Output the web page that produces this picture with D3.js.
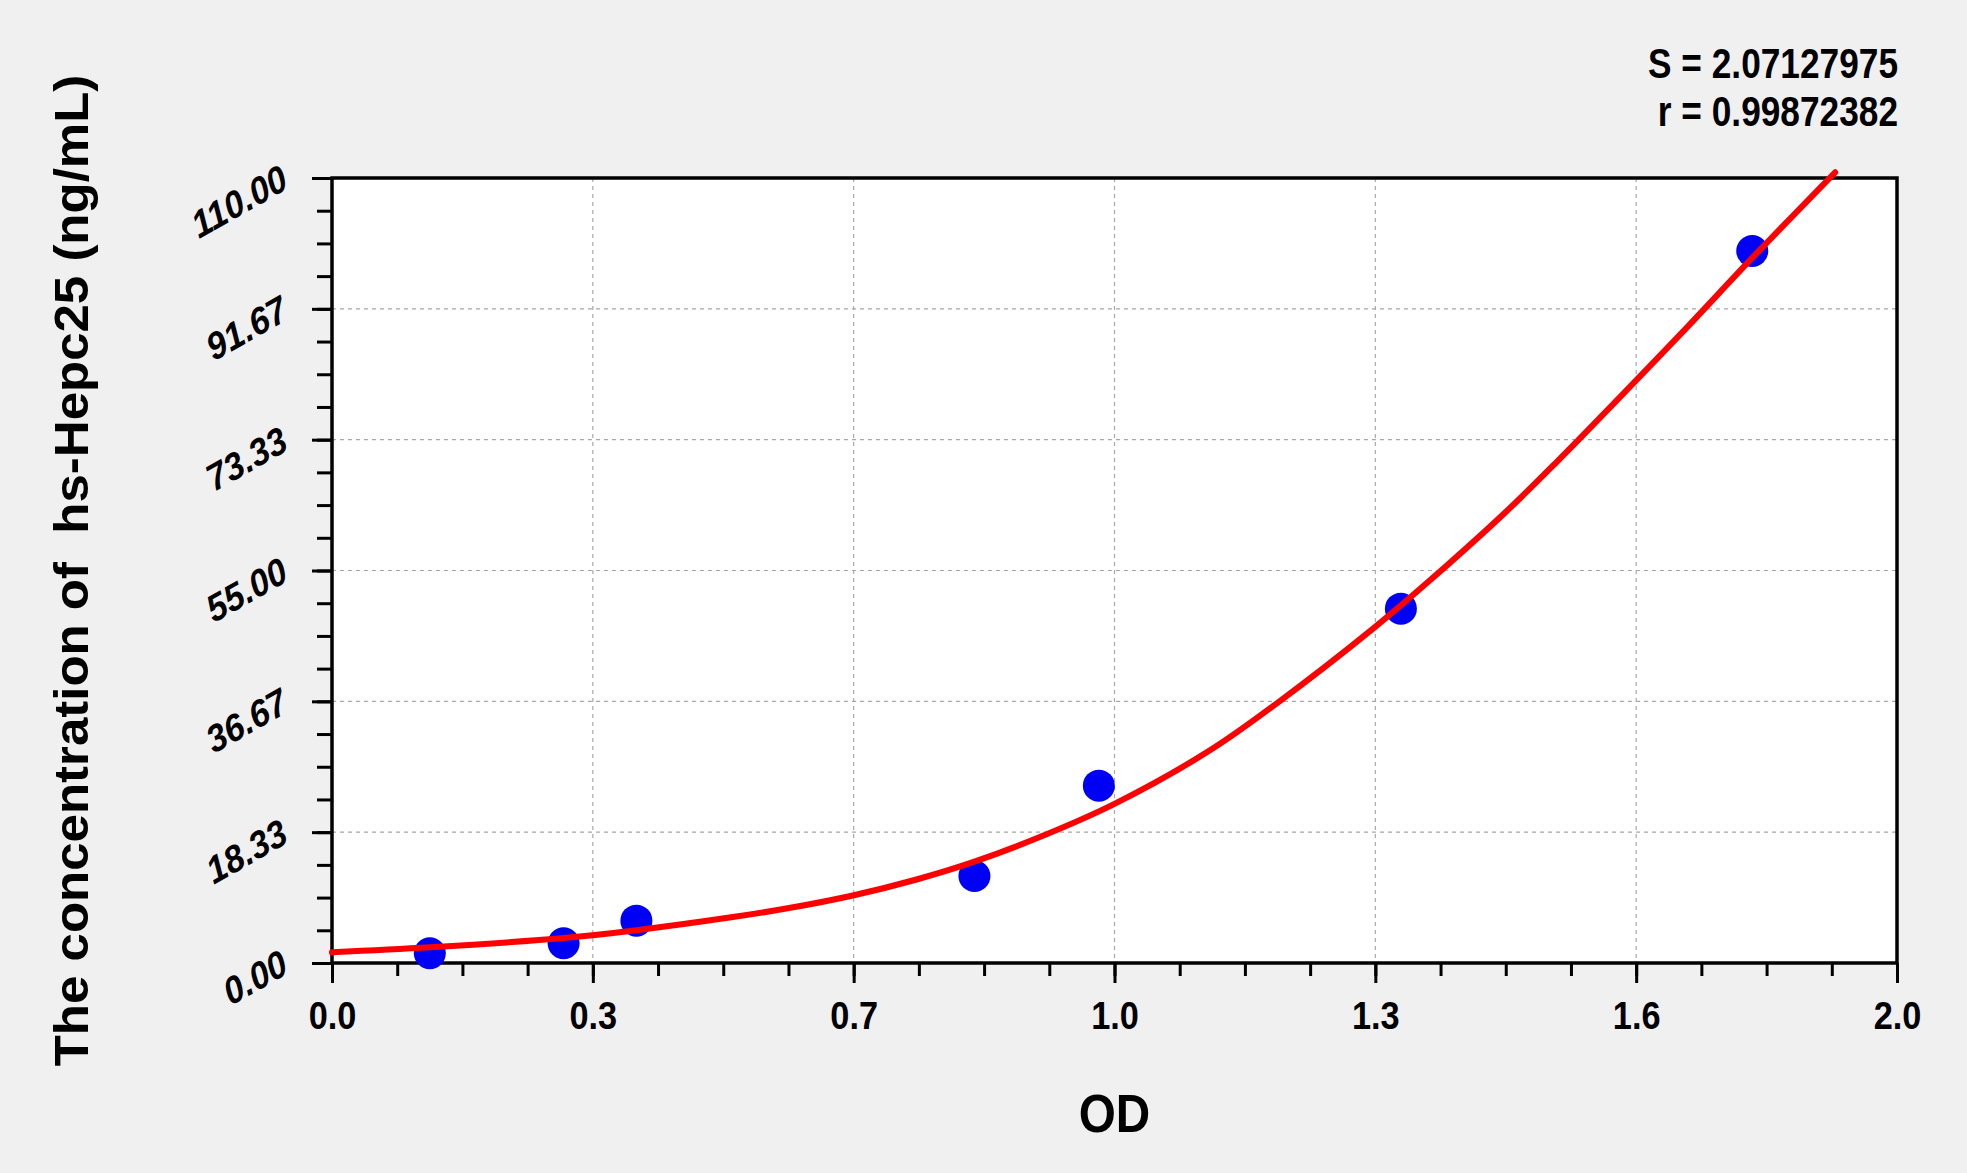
<!DOCTYPE html>
<html>
<head>
<meta charset="utf-8">
<script src="https://cdn.jsdelivr.net/npm/d3@7"></script>
<style>
  html, body { margin: 0; padding: 0; background: #f0f0f0; overflow: hidden; }
  svg { display: block; font-family: "Liberation Sans", Arial, sans-serif; }
</style>
</head>
<body>
<svg id="chart"></svg>
<script>
// standard points (OD, concentration)
const odPoints = [0.125, 0.296, 0.389, 0.821, 0.980, 1.366, 1.815];
const concPoints = [1.36, 2.76, 5.93, 12.19, 24.85, 49.65, 99.77];

// fitted curve
const curveOD = [0.00, 0.125, 0.296, 0.389, 0.51, 0.584, 0.667, 0.747, 0.821, 0.91, 1.0, 1.122, 1.21, 1.332, 1.405, 1.50, 1.565, 1.661, 1.731, 1.815, 1.921];
const curveConc = [1.5, 2.2, 3.5, 4.6, 6.4, 7.7, 9.5, 11.7, 14.2, 17.9, 22.3, 29.8, 36.6, 47.0, 53.8, 63.2, 70.2, 81.0, 89.0, 98.8, 110.8];

const xTickLabels = ['0.0', '0.3', '0.7', '1.0', '1.3', '1.6', '2.0'];
const yTickLabels = ['0.00', '18.33', '36.67', '55.00', '73.33', '91.67', '110.00'];
const statLines = ['S = 2.07127975', 'r = 0.99872382'];

const width = 1967, height = 1173;
const margin = {top: 178, right: 70, bottom: 210, left: 332};
const innerWidth = width - margin.left - margin.right;
const innerHeight = height - margin.top - margin.bottom;
const xMax = 2, yMax = 110;

const svg = d3.select('#chart')
    .attr('width', width)
    .attr('height', height);

svg.append('rect')
    .attr('width', width).attr('height', height)
    .attr('fill', '#f0f0f0');

const g = svg.append('g')
    .attr('transform', `translate(${margin.left},${margin.top})`);

const x = d3.scaleLinear().domain([0, xMax]).range([0, innerWidth]);
const y = d3.scaleLinear().domain([0, yMax]).range([innerHeight, 0]);

const xMajor = d3.range(xTickLabels.length).map(i => i * xMax / (xTickLabels.length - 1));
const yMajor = d3.range(yTickLabels.length).map(i => i * yMax / (yTickLabels.length - 1));
const xMinor = d3.range(25).map(i => i * xMax / 24);
const yMinor = d3.range(25).map(i => i * yMax / 24);

g.append('rect')
    .attr('width', innerWidth).attr('height', innerHeight)
    .attr('fill', '#ffffff');

// dashed grid
g.selectAll('.vgrid').data(xMajor.slice(1, -1))
    .enter().append('line')
    .attr('x1', d => x(d)).attr('x2', d => x(d))
    .attr('y1', 0).attr('y2', innerHeight)
    .attr('stroke', '#a8a8a8').attr('stroke-width', 1.2)
    .attr('stroke-dasharray', '4,4');

g.selectAll('.hgrid').data(yMajor.slice(1, -1))
    .enter().append('line')
    .attr('x1', 0).attr('x2', innerWidth)
    .attr('y1', d => y(d)).attr('y2', d => y(d))
    .attr('stroke', '#a8a8a8').attr('stroke-width', 1.2)
    .attr('stroke-dasharray', '4,4');

// minor ticks
const xMinorAxis = g.append('g')
    .attr('transform', `translate(0,${innerHeight})`)
    .call(d3.axisBottom(x).tickValues(xMinor).tickSize(13).tickFormat(''));
const yMinorAxis = g.append('g')
    .call(d3.axisLeft(y).tickValues(yMinor).tickSize(15).tickFormat(''));

// major ticks with labels
const xAxis = g.append('g')
    .attr('transform', `translate(0,${innerHeight})`)
    .call(d3.axisBottom(x).tickValues(xMajor).tickSize(20)
        .tickFormat((d, i) => xTickLabels[i]));
const yAxis = g.append('g')
    .call(d3.axisLeft(y).tickValues(yMajor).tickSize(20)
        .tickFormat((d, i) => yTickLabels[i]));

[xMinorAxis, yMinorAxis, xAxis, yAxis].forEach(a => {
    a.select('.domain').remove();
    a.selectAll('line').attr('stroke', '#000').attr('stroke-width', 3);
});

xAxis.selectAll('text')
    .attr('y', null).attr('dy', null)
    .attr('transform', 'translate(0,66) scale(0.88,1)')
    .attr('fill', '#000')
    .style('font-size', '39px')
    .style('font-weight', 'bold')
    .style('font-family', '"Liberation Sans", Arial, sans-serif');

yAxis.selectAll('text')
    .attr('x', null).attr('dy', null)
    .attr('text-anchor', 'end')
    .attr('transform', 'translate(-42,9) scale(0.9,1) rotate(-27)')
    .attr('fill', '#000')
    .style('font-size', '38px')
    .style('font-weight', 'bold')
    .style('font-style', 'italic')
    .style('font-family', '"Liberation Sans", Arial, sans-serif');

// plot frame
g.append('rect')
    .attr('width', innerWidth).attr('height', innerHeight)
    .attr('fill', 'none')
    .attr('stroke', '#000').attr('stroke-width', 3.5);

// fitted curve
const curveData = curveOD.map((d, i) => ({od: d, c: curveConc[i]}));
const line = d3.line()
    .x(d => x(d.od))
    .y(d => y(d.c))
    .curve(d3.curveCatmullRom);

// standard points
const pointData = odPoints.map((d, i) => ({od: d, c: concPoints[i]}));
g.selectAll('circle').data(pointData)
    .enter().append('circle')
    .attr('cx', d => x(d.od))
    .attr('cy', d => y(d.c))
    .attr('r', 16)
    .attr('fill', '#0000f5');

g.append('path')
    .datum(curveData)
    .attr('d', line)
    .attr('fill', 'none')
    .attr('stroke', '#ff0000')
    .attr('stroke-width', 6)
    .attr('stroke-linecap', 'round');

// axis titles
svg.append('text')
    .attr('transform', `translate(${margin.left + innerWidth / 2},1132) scale(0.9,1)`)
    .attr('text-anchor', 'middle')
    .style('font-size', '53px')
    .style('font-weight', 'bold')
    .text('OD');

svg.append('text')
    .attr('transform', `translate(88,${margin.top + innerHeight / 2}) scale(0.95,1) rotate(-90)`)
    .attr('text-anchor', 'middle')
    .style('font-size', '51px')
    .style('font-weight', 'bold')
    .style('white-space', 'pre')
    .text('The concentration of  hs-Hepc25 (ng/mL)');

// fit statistics
svg.selectAll('.stat').data(statLines)
    .enter().append('text')
    .attr('class', 'stat')
    .attr('transform', (d, i) => `translate(1898,${78 + i * 48}) scale(0.82,1)`)
    .attr('text-anchor', 'end')
    .style('font-size', '43px')
    .style('font-weight', 'bold')
    .text(d => d);
</script>
</body>
</html>
